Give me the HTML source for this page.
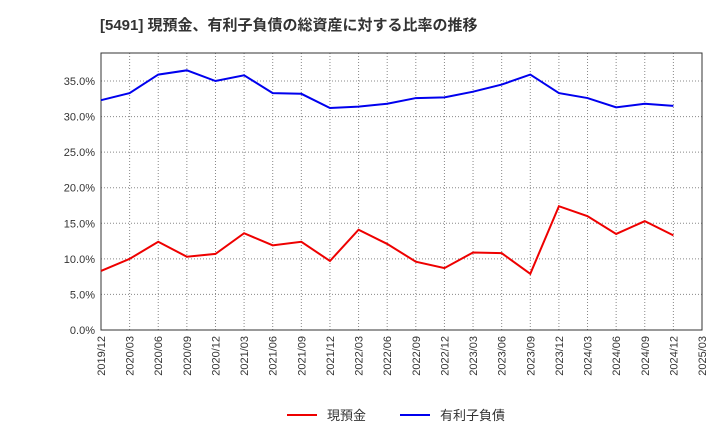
<!DOCTYPE html>
<html><head><meta charset="utf-8"><style>
body{margin:0;background:#fff;font-family:"Liberation Sans","Noto Sans CJK JP",sans-serif}
</style></head><body>
<svg width="720" height="440" xmlns="http://www.w3.org/2000/svg">
<text x="100" y="30" font-size="15" font-weight="bold" fill="#333" font-family="Liberation Sans,Noto Sans CJK JP,sans-serif">[5491]  現預金、有利子負債の総資産に対する比率の推移</text>
<g id="grid"></g><g id="axes"></g><g id="series"></g>
<g>
<line x1="287" y1="415" x2="317" y2="415" stroke="#e00" stroke-width="2"/>
<text x="327" y="420" font-size="13" fill="#333">現預金</text>
<line x1="400" y1="415" x2="430" y2="415" stroke="#00e" stroke-width="2"/>
<text x="440" y="420" font-size="13" fill="#333">有利子負債</text>
</g>
</svg>
<script>
const xLabels=["2019/12","2020/03","2020/06","2020/09","2020/12","2021/03","2021/06","2021/09","2021/12","2022/03","2022/06","2022/09","2022/12","2023/03","2023/06","2023/09","2023/12","2024/03","2024/06","2024/09","2024/12","2025/03"];
const yTicks=[0,5,10,15,20,25,30,35];
const debt=[32.3,33.3,35.9,36.5,35.0,35.8,33.3,33.2,31.2,31.4,31.8,32.6,32.7,33.5,34.5,35.9,33.3,32.6,31.3,31.8,31.5];
const cash=[8.3,10.0,12.4,10.3,10.7,13.6,11.9,12.4,9.7,14.1,12.1,9.6,8.7,10.9,10.8,7.9,17.4,16.0,13.5,15.3,13.3];
const L=101,R=702,T=53,B=330;
const xs=i=>L+i*(R-L)/(xLabels.length-1);
const ys=v=>B-v*(B-81)/35;
const NS="http://www.w3.org/2000/svg";
function mk(p,t,a){const e=document.createElementNS(NS,t);for(const k in a)e.setAttribute(k,a[k]);p.appendChild(e);return e;}
const g=document.getElementById('grid'),ax=document.getElementById('axes'),s=document.getElementById('series');
xLabels.forEach((l,i)=>{
 const x=xs(i);
 const ln=mk(g,'line',{x1:x,y1:T,x2:x,y2:B,stroke:'#888','stroke-dasharray':'1,2'});
 
 
 const t=mk(ax,'text',{x:0,y:0,'font-size':11,fill:'#333','text-anchor':'end',transform:`translate(${x+4},${B+6}) rotate(-90)`});
 t.textContent=l;
 
 
});
yTicks.forEach(v=>{
 const y=ys(v);
 const ln=mk(g,'line',{x1:L,y1:y,x2:R,y2:y,stroke:'#888','stroke-dasharray':'1,2'});
 
 
 const t=mk(ax,'text',{x:L-6,y:y+4,'font-size':11,fill:'#333','text-anchor':'end'});
 t.textContent=v.toFixed(1)+'%';
 
 
});
const fr=mk(ax,'rect',{x:L,y:T,width:R-L,height:B-T,fill:'none',stroke:'#333'});


const pd=mk(s,'polyline',{points:debt.map((v,i)=>xs(i)+','+ys(v)).join(' '),fill:'none',stroke:'#00e','stroke-width':2});


const pc=mk(s,'polyline',{points:cash.map((v,i)=>xs(i)+','+ys(v)).join(' '),fill:'none',stroke:'#e00','stroke-width':2});


</script>
</body></html>
